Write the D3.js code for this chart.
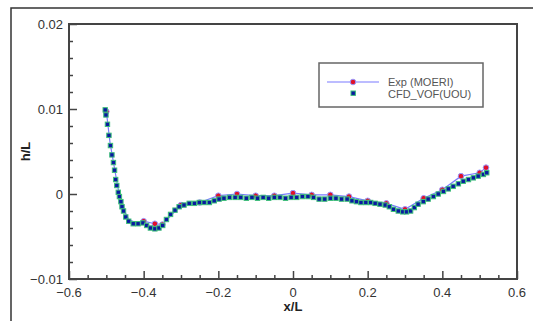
<!DOCTYPE html>
<html>
<head>
<meta charset="utf-8">
<script src="https://cdn.jsdelivr.net/npm/d3@7"></script>
<style>
  body { margin: 0; background: #fff; }
  text { font-family: "Liberation Sans", Arial, sans-serif; }
</style>
</head>
<body>
<div id="chart"></div>
<script>
// measured: Exp (MOERI)
const expX = [-0.5, -0.49, -0.48, -0.47, -0.46, -0.44, -0.42, -0.4, -0.37, -0.35, -0.3, -0.25, -0.2, -0.15,
  -0.1, -0.05, 0, 0.05, 0.1, 0.15, 0.2, 0.25, 0.3, 0.35, 0.4, 0.45, 0.5, 0.517];
const expH = [0.0097, 0.006, 0.0035, 0.001, -0.0012, -0.003, -0.0034, -0.0032, -0.0035, -0.0036, -0.0013,
  -0.0010, -0.0002, 0.0000, -0.0002, -0.0002, 0.0001, -0.0001, -0.0001, -0.0003, -0.0008, -0.0011,
  -0.0018, -0.0005, 0.0005, 0.0021, 0.0025, 0.0031];

// computed: CFD_VOF(UOU)
const cfdX = [-0.503, -0.501, -0.497, -0.493, -0.489, -0.485, -0.481, -0.478, -0.475, -0.472, -0.468,
  -0.465, -0.461, -0.458, -0.454, -0.448, -0.44, -0.428, -0.415, -0.402, -0.392, -0.382, -0.37, -0.359,
  -0.349, -0.339, -0.328, -0.316, -0.305, -0.292, -0.278, -0.264, -0.251, -0.238, -0.224, -0.211,
  -0.198, -0.185, -0.17, -0.155, -0.14, -0.125, -0.11, -0.095, -0.08, -0.065, -0.05, -0.035, -0.02,
  -0.005, 0.01, 0.025, 0.04, 0.055, 0.07, 0.085, 0.1, 0.115, 0.13, 0.145, 0.158, 0.17, 0.182, 0.195,
  0.208, 0.22, 0.233, 0.247, 0.258, 0.269, 0.282, 0.294, 0.304, 0.315, 0.325, 0.335, 0.349, 0.362,
  0.376, 0.389, 0.403, 0.416, 0.429, 0.443, 0.456, 0.47, 0.483, 0.496, 0.51, 0.519];
const cfdH = [0.0099, 0.0093, 0.0082, 0.0069, 0.0057, 0.0046, 0.0037, 0.0028, 0.0017, 0.0010, 0.0002,
  -0.0003, -0.0009, -0.0015, -0.0020, -0.0027, -0.0032, -0.0035, -0.0035, -0.0034, -0.0037, -0.0040,
  -0.0041, -0.0040, -0.0037, -0.0030, -0.0024, -0.0019, -0.0015, -0.0013, -0.0011, -0.0011, -0.0010,
  -0.0010, -0.0010, -0.0008, -0.0006, -0.0005, -0.0004, -0.0004, -0.0004, -0.0005, -0.0004, -0.0005,
  -0.0004, -0.0005, -0.0004, -0.0004, -0.0005, -0.0004, -0.0004, -0.0003, -0.0003, -0.0004, -0.0006,
  -0.0006, -0.0005, -0.0005, -0.0006, -0.0006, -0.0008, -0.0009, -0.0010, -0.0010, -0.0010, -0.0011,
  -0.0012, -0.0013, -0.0015, -0.0018, -0.0020, -0.0021, -0.0021, -0.0020, -0.0016, -0.0012, -0.0009,
  -0.0006, -0.0003, 0.0000, 0.0003, 0.0006, 0.0009, 0.0012, 0.0015, 0.0017, 0.0019, 0.0021, 0.0023,
  0.0025];

const xTicks = [-0.6, -0.4, -0.2, 0, 0.2, 0.4, 0.6];
const yTicks = [-0.01, 0, 0.01, 0.02];
const seriesNames = ['Exp (MOERI)', 'CFD_VOF(UOU)'];

const W = 533;
const H = 321;
const plot = { left: 69, right: 517, top: 24, bottom: 279 };

const svg = d3.select('#chart').append('svg')
  .attr('width', W)
  .attr('height', H);

// outer frame (runs off the right and bottom)
svg.append('rect')
  .attr('x', 11).attr('y', 8)
  .attr('width', 600).attr('height', 400)
  .attr('fill', 'none')
  .attr('stroke', '#333')
  .attr('stroke-width', 1.5);

const x = d3.scaleLinear().domain([-0.6, 0.6]).range([plot.left, plot.right]);
const y = d3.scaleLinear().domain([-0.01, 0.02]).range([plot.bottom, plot.top]);

const fmt = (d) => (d === 0 ? '0' : d3.format('.1f')(d));
const fmtY = (d) => (d === 0 ? '0' : d3.format('.2f')(d));

// x axis, ticks inward
const xAxis = svg.append('g').attr('transform', `translate(0,${plot.bottom})`);
xAxis.call(d3.axisTop(x).tickValues(d3.range(-0.6, 0.6001, 0.05)).tickSize(4).tickFormat(''));
xAxis.call((g) => g.selectAll('.tick').filter((d) => xTicks.some((t) => Math.abs(t - d) < 1e-6))
  .select('line').attr('y2', -8));
xAxis.select('.domain').remove();
xAxis.selectAll('line').attr('stroke', '#444').attr('stroke-width', 1.5);
xAxis.selectAll('.lbl').data(xTicks).enter().append('text')
  .attr('x', (d) => x(d))
  .attr('y', 17.5)
  .attr('text-anchor', 'middle')
  .attr('font-size', 13)
  .attr('fill', '#333')
  .text(fmt);

// y axis, ticks inward
const yAxis = svg.append('g').attr('transform', `translate(${plot.left},0)`);
yAxis.call(d3.axisRight(y).tickValues(d3.range(-0.01, 0.02001, 0.002)).tickSize(4).tickFormat(''));
yAxis.call((g) => g.selectAll('.tick').filter((d) => yTicks.some((t) => Math.abs(t - d) < 1e-6))
  .select('line').attr('x2', 8));
yAxis.select('.domain').remove();
yAxis.selectAll('line').attr('stroke', '#444').attr('stroke-width', 1.5);
yAxis.selectAll('.lbl').data(yTicks).enter().append('text')
  .attr('x', -6)
  .attr('y', (d) => y(d) + 4.5)
  .attr('text-anchor', 'end')
  .attr('font-size', 13)
  .attr('fill', '#333')
  .text(fmtY);

// plot frame
svg.append('rect')
  .attr('x', plot.left).attr('y', plot.top)
  .attr('width', plot.right - plot.left).attr('height', plot.bottom - plot.top)
  .attr('fill', 'none')
  .attr('stroke', '#444')
  .attr('stroke-width', 2);

// axis titles
svg.append('text')
  .attr('x', (plot.left + plot.right) / 2)
  .attr('y', 311)
  .attr('text-anchor', 'middle')
  .attr('font-size', 13)
  .attr('font-weight', 'bold')
  .attr('fill', '#222')
  .text('x/L');

svg.append('text')
  .attr('transform', `translate(30,${y(0.005)}) rotate(-90)`)
  .attr('text-anchor', 'middle')
  .attr('font-size', 13)
  .attr('font-weight', 'bold')
  .attr('fill', '#222')
  .text('h/L');

const expData = expX.map((v, i) => [v, expH[i]]);
const cfdData = cfdX.map((v, i) => [v, cfdH[i]]);

const line = d3.line().x((d) => x(d[0])).y((d) => y(d[1]));

svg.append('path')
  .datum(expData)
  .attr('d', line)
  .attr('fill', 'none')
  .attr('stroke', '#7a7aff')
  .attr('stroke-width', 1.2);

svg.append('g').selectAll('circle')
  .data(expData.filter((d, i) => i === 0 || i > 6))
  .enter()
  .append('circle')
  .attr('cx', (d) => x(d[0]))
  .attr('cy', (d) => y(d[1]))
  .attr('r', 2.8)
  .attr('fill', '#e0102a')
  .attr('stroke', '#9a9aff')
  .attr('stroke-width', 1);

svg.append('g').selectAll('rect')
  .data(cfdData)
  .enter()
  .append('rect')
  .attr('x', (d) => x(d[0]) - 2.2)
  .attr('y', (d) => y(d[1]) - 2.2)
  .attr('width', 4.4)
  .attr('height', 4.4)
  .attr('fill', '#0a1aa0')
  .attr('stroke', '#3fbf7a')
  .attr('stroke-width', 1);

// legend
const lg = svg.append('g');
lg.append('rect')
  .attr('x', 319).attr('y', 63)
  .attr('width', 164).attr('height', 44)
  .attr('fill', '#fff')
  .attr('stroke', '#666')
  .attr('stroke-width', 1.5);
lg.append('line')
  .attr('x1', 327).attr('x2', 379)
  .attr('y1', 82).attr('y2', 82)
  .attr('stroke', '#7a7aff')
  .attr('stroke-width', 1.2);
lg.append('circle')
  .attr('cx', 353).attr('cy', 82).attr('r', 2.8)
  .attr('fill', '#e0102a')
  .attr('stroke', '#9a9aff')
  .attr('stroke-width', 1);
lg.append('rect')
  .attr('x', 351).attr('y', 91)
  .attr('width', 4.4).attr('height', 4.4)
  .attr('fill', '#0a1aa0')
  .attr('stroke', '#3fbf7a')
  .attr('stroke-width', 1);
lg.selectAll('.lt').data(seriesNames).enter().append('text')
  .attr('x', 388)
  .attr('y', (d, i) => 86 + i * 12)
  .attr('font-size', 11)
  .attr('fill', '#555')
  .text((d) => d);
</script>
</body>
</html>
